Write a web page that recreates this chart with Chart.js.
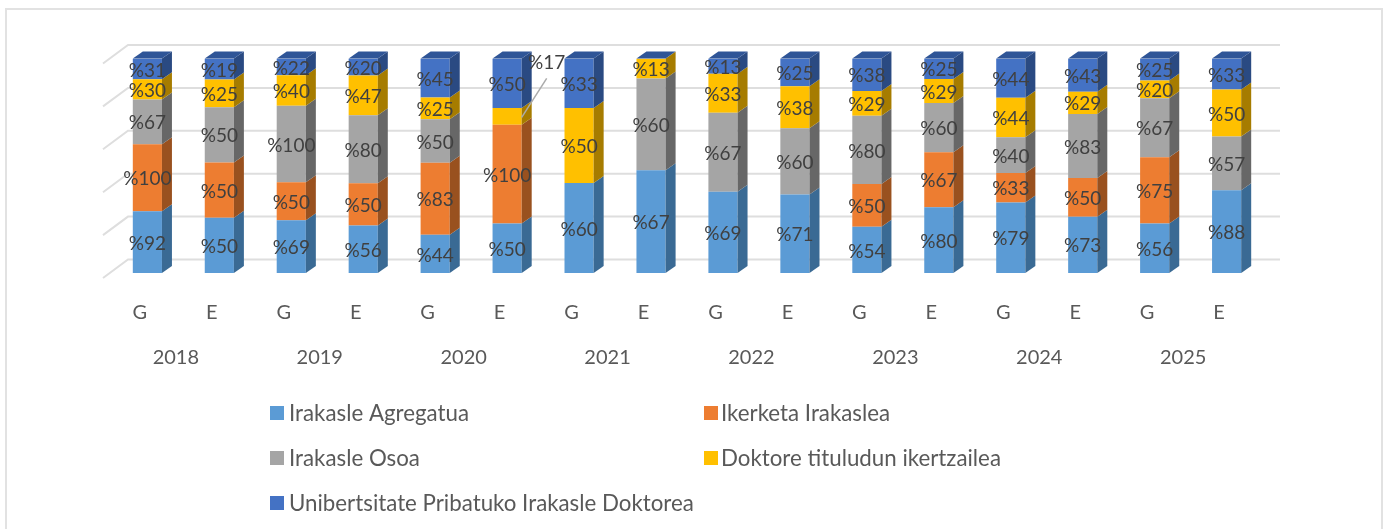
<!DOCTYPE html>
<html>
<head>
<meta charset="utf-8">
<style>html,body{margin:0;padding:0;background:#fff}#w{width:1389px;height:529px;position:relative}</style>
<script src="https://cdn.jsdelivr.net/npm/chart.js@4"></script>
</head>
<body>
<div id="w"><canvas id="c" width="1389" height="529"></canvas></div>
<script>
const categories = ['G','E','G','E','G','E','G','E','G','E','G','E','G','E','G','E'];
const years = ['2018','2019','2020','2021','2022','2023','2024','2025'];
const agregatua = [92,50,69,56,44,50,60,67,69,71,54,80,79,73,56,88];
const ikerketa  = [100,50,50,50,83,100,null,null,null,null,50,67,33,50,75,null];
const osoa      = [67,50,100,80,50,null,null,60,67,60,80,60,40,83,67,57];
const doktore   = [30,25,40,47,25,17,50,13,33,38,29,29,44,29,20,50];
const pribatua  = [31,19,22,20,45,50,33,null,13,25,38,25,44,43,25,33];
const seriesNames = ['Irakasle Agregatua','Ikerketa Irakaslea','Irakasle Osoa','Doktore tituludun ikertzailea','Unibertsitate Pribatuko Irakasle Doktorea'];
const seriesRaw = [agregatua,ikerketa,osoa,doktore,pribatua];
const frontColors = ['#5B9BD5','#ED7D31','#A5A5A5','#FFC000','#4472C4'];
const sideColors  = ['#3A6A94','#99511F','#676767','#A67C00','#2A4A82'];
const topColor = '#2F5597';
const FONT = 'Lato, Carlito, sans-serif';
const DX = 10, DY = -7;
const totals = categories.map((_,i)=>seriesRaw.reduce((s,a)=>s+(a[i]||0),0));

const threeD = {
  id:'threeD',
  beforeDraw(chart){
    const {ctx,scales:{y}} = chart;
    ctx.save();
    ctx.strokeStyle='#E2E2E2'; ctx.lineWidth=2;
    ctx.strokeRect(6,9,1376,600);
    ctx.strokeStyle='#DEDEDE'; ctx.lineWidth=2;
    y.ticks.forEach(t=>{
      const p=y.getPixelForValue(t.value);
      ctx.beginPath();
      ctx.moveTo(103,p+5);
      ctx.lineTo(128,p-13.5);
      ctx.lineTo(1280,p-13.5);
      ctx.stroke();
    });
    ctx.restore();
  },
  afterDatasetsDraw(chart){
    const {ctx} = chart;
    ctx.save();
    chart.data.datasets.forEach((ds,di)=>{
      chart.getDatasetMeta(di).data.forEach((bar,i)=>{
        if(seriesRaw[di][i]==null) return;
        const r=bar.x+bar.width/2, t=bar.y, b=bar.base;
        ctx.fillStyle=sideColors[di];
        ctx.beginPath();
        ctx.moveTo(r,t);ctx.lineTo(r+DX,t+DY);ctx.lineTo(r+DX,b+DY);ctx.lineTo(r,b);ctx.closePath();ctx.fill();
      });
    });
    const meta=chart.getDatasetMeta(0);
    meta.data.forEach((bar,i)=>{
      const l=bar.x-bar.width/2, r=bar.x+bar.width/2, t=chart.scales.y.getPixelForValue(100);
      ctx.fillStyle=topColor;
      ctx.beginPath();
      ctx.moveTo(l,t);ctx.lineTo(l+DX,t+DY);ctx.lineTo(r+DX,t+DY);ctx.lineTo(r,t);ctx.closePath();ctx.fill();
    });
    ctx.font='19px '+FONT; ctx.fillStyle='#404040'; ctx.textAlign='center'; ctx.textBaseline='middle';
    chart.data.datasets.forEach((ds,di)=>{
      chart.getDatasetMeta(di).data.forEach((bar,i)=>{
        const v=seriesRaw[di][i];
        if(v==null) return;
        let x=bar.x, y=(bar.y+bar.base)/2;
        if(di===3 && i===5){
          ctx.save();ctx.strokeStyle='#ABABAB';ctx.lineWidth=1.5;
          ctx.beginPath();ctx.moveTo(bar.x+bar.width/2,y+1);ctx.lineTo(bar.x+bar.width/2+25,y-38);ctx.stroke();ctx.restore();
          x=bar.x+bar.width/2+25; y=61;
        }
        ctx.fillText('%'+v,x,y+1.5);
      });
    });
    const swatchX=[270,704], textX=[289,721], rows=[413,458,503];
    const slots=[[0,0],[1,0],[0,1],[1,1],[0,2]];
    ctx.font='22.3px '+FONT; ctx.textAlign='left';
    seriesNames.forEach((n,i)=>{
      const [c,r]=slots[i];
      ctx.fillStyle=frontColors[i];
      ctx.fillRect(swatchX[c],rows[r]-7,14,14);
      ctx.fillStyle='#595959';
      ctx.fillText(n,textX[c],rows[r]+1);
    });
    ctx.restore();
  }
};

new Chart(document.getElementById('c'),{
  type:'bar',
  data:{
    labels:categories,
    datasets:seriesNames.map((n,di)=>({
      label:n,
      data:seriesRaw[di].map((v,i)=>v==null?null:v/totals[i]*100),
      backgroundColor:frontColors[di],
      borderWidth:0,
      stack:'s',
      barPercentage:0.405,
      categoryPercentage:1,
      xAxisID:'x',
      yAxisID:'y'
    }))
  },
  options:{
    responsive:false,
    animation:false,
    layout:{padding:{left:111.4,right:126.4,top:58.5,bottom:100}},
    plugins:{legend:{display:false},tooltip:{enabled:false},title:{display:false}},
    scales:{
      x:{
        stacked:true,position:'bottom',
        grid:{display:false,drawTicks:false},border:{display:false},
        ticks:{color:'#595959',font:{family:FONT,size:20},padding:28,labelOffset:-7.5,maxRotation:0,autoSkip:false},
        afterFit(s){s.height=60;}
      },
      x2:{
        type:'category',axis:'x',labels:years,position:'bottom',
        grid:{display:false,drawTicks:false},border:{display:false},
        ticks:{color:'#595959',font:{family:FONT,size:20},padding:13,labelOffset:-7.5,maxRotation:0,autoSkip:false},
        afterFit(s){s.height=96;}
      },
      y:{stacked:true,display:false,min:0,max:100,ticks:{stepSize:20}}
    }
  },
  plugins:[threeD]
});
</script>
</body>
</html>
